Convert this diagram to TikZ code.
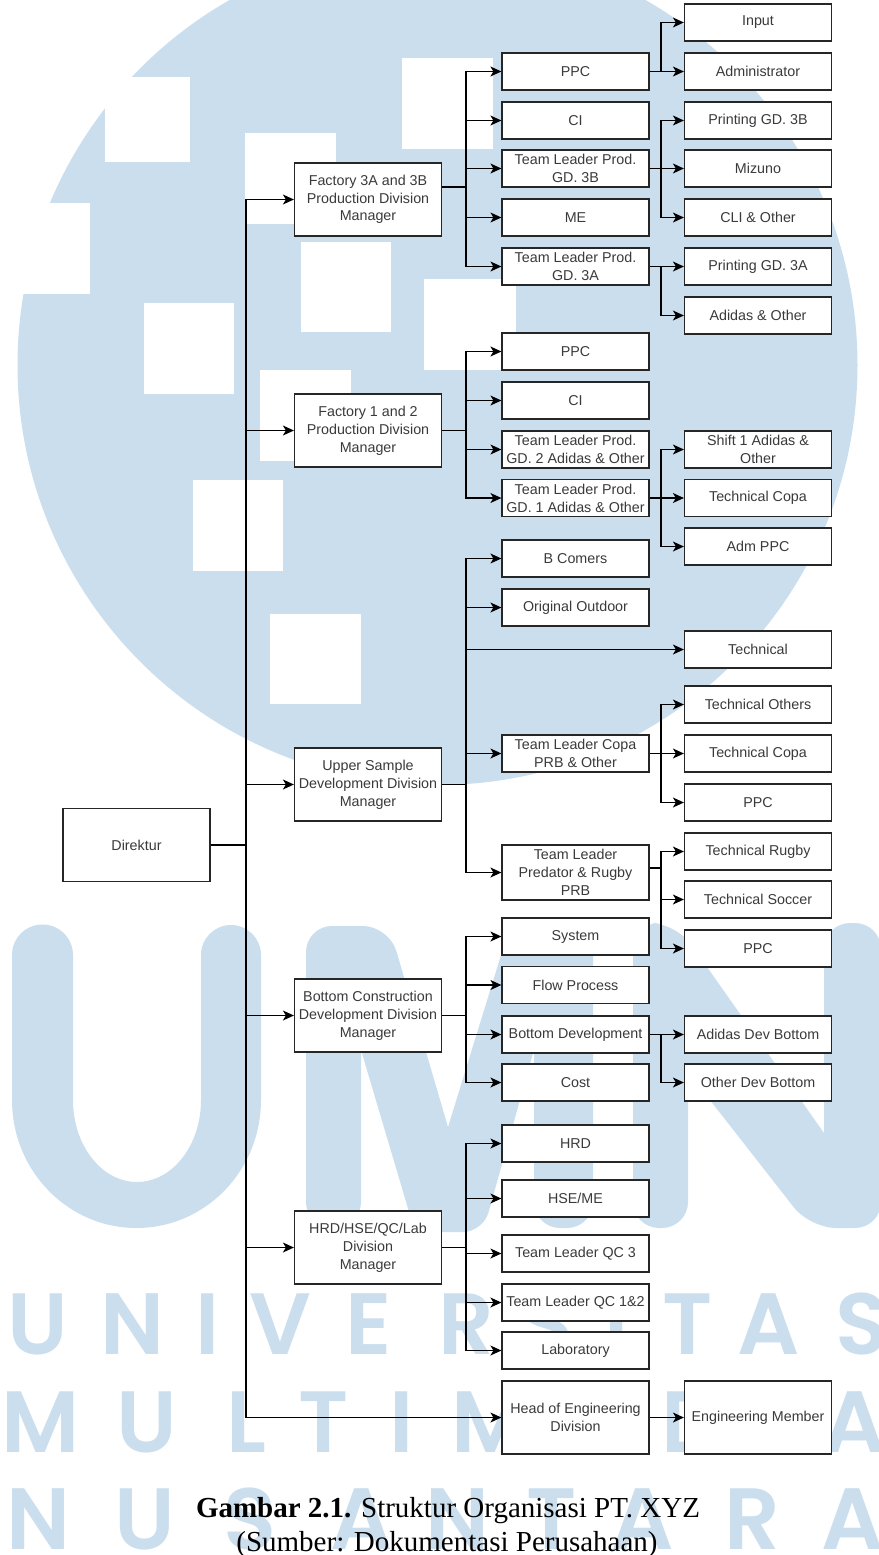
\documentclass[tikz,border=0pt]{standalone}
\usepackage{fontspec}
\usetikzlibrary{arrows.meta, positioning}
\setmainfont{Liberation Serif}
\newfontfamily\boxfont{Liberation Sans}
\newfontfamily\markfont{Poppins SemiBold}
\definecolor{markblue}{HTML}{CBDEEE}
\definecolor{boxtext}{HTML}{3A3A3A}
\tikzset{
  unit/.style={draw=black!85, fill=white, line width=1.2pt, minimum width=147pt, minimum height=37pt,
    inner sep=0pt, align=center, text=boxtext, font=\boxfont\fontsize{14.3}{17.8}\selectfont},
  tall/.style={unit, minimum height=73pt},
  mid/.style={unit, minimum height=55pt},
  link/.style={draw=black, line width=1.2pt, -{Stealth[length=11pt,width=10pt,inset=3pt]}},
  letter/.style={anchor=base, inner sep=0pt, text=markblue, font=\markfont\fontsize{87}{87}\selectfont},
  caption/.style={inner sep=0pt, font=\fontsize{29}{35}\selectfont}
}
\begin{document}
\begin{tikzpicture}[x=1pt, y=-1pt]
\useasboundingbox (0,0) rectangle (878,1555);

% circle with the white squares
\fill[markblue] (437.5,365) circle [radius=420pt];
\foreach \xa/\ya/\xb/\yb in {105/77/190/162, 245/133/336/224, 402/58/493/149, 301/242/391/332,
  424/279/516/370, 144/303/234/394, 260/370/351/461, 193/480/283/571, 270/614/361/704, 0/203/90/294}{
  \fill[white] (\xa,\ya) rectangle (\xb,\yb);
}

% big letters
\fill[markblue] (12,955) arc[start angle=180, end angle=360, radius=30.5] -- (73,1100)
  arc[start angle=180, end angle=0, x radius=64, y radius=82] -- (201,955)
  arc[start angle=180, end angle=360, radius=30] -- (261,1100)
  arc[start angle=0, end angle=180, x radius=124.5, y radius=128] -- cycle;
\fill[markblue, rounded corners=26pt] (306,926) -- (389,926) [sharp corners] -- (448,1127) [rounded corners=26pt]
  -- (510,926) -- (593,926) -- (593,1228) -- (534,1228) [sharp corners] -- (534,1050) [rounded corners=20pt]
  -- (483,1232) -- (415,1232) [sharp corners] -- (361,1050) [rounded corners=26pt] -- (361,1228) -- (306,1228) -- cycle;
\fill[markblue, rounded corners=26pt] (633,923) -- (676,923) [sharp corners] -- (824,1133) [rounded corners=26pt]
  -- (824,923) -- (881,923) -- (881,1228) -- (810,1228) [sharp corners] -- (688,1072) [rounded corners=26pt]
  -- (688,1228) -- (633,1228) -- cycle;

\foreach \x/\l in {38/U,132/N,208/I,280/V,369/E,466/R,547/S,617/I,688/T,769/A,862/S}{
  \node[letter] (uni\x) at (\x,1354) {\l};
}
\foreach \x/\l in {41/M,147/U,246/L,324/T,402/I,491/M,587/E,693/D,775/I,855/A}{
  \node[letter] (mul\x) at (\x,1452) {\l};
}
\foreach \x/\l in {38/N,145/U,250/S,362/A,457/N,552/T,643/A,752/R,853/A}{
  \node[letter] (nus\x) at (\x,1549) {\l};
}

\node[tall] (dir) at (136.5,845) {Direktur};

\node[tall] (fab3) at (368,199.5) {Factory 3A and 3B\\Production Division\\Manager};
\node[tall] (fab1) at (368,430.5) {Factory 1 and 2\\Production Division\\Manager};
\node[tall] (upper) at (368,784.5) {Upper Sample\\Development Division\\Manager};
\node[tall] (bottom) at (368,1015.5) {Bottom Construction\\Development Division\\Manager};
\node[tall] (hrd) at (368,1247.5) {HRD/HSE/QC/Lab\\Division\\Manager};

\node[unit] (ppcA) at (575.5,71.5) {PPC};
\node[unit] (ciA) at (575.5,120.5) {CI};
\node[unit] (tlB) at (575.5,168.5) {Team Leader Prod.\\GD. 3B};
\node[unit] (meA) at (575.5,217.5) {ME};
\node[unit] (tlA) at (575.5,266.5) {Team Leader Prod.\\GD. 3A};

\node[unit] (ppcB) at (575.5,351.5) {PPC};
\node[unit] (ciB) at (575.5,400.5) {CI};
\node[unit] (tlTwo) at (575.5,449.5) {Team Leader Prod.\\GD. 2 Adidas \& Other};
\node[unit] (tlOne) at (575.5,498) {Team Leader Prod.\\GD. 1 Adidas \& Other};

\node[unit] (comers) at (575.5,558.5) {B Comers};
\node[unit] (outdoor) at (575.5,607.5) {Original Outdoor};
\node[unit] (tlCopa) at (575.5,753.5) {Team Leader Copa\\PRB \& Other};
\node[mid] (tlPred) at (575.5,872.5) {Team Leader\\Predator \& Rugby\\PRB};

\node[unit] (system) at (575.5,936.5) {System};
\node[unit] (flow) at (575.5,985) {Flow Process};
\node[unit] (botdev) at (575.5,1034.5) {Bottom Development};
\node[unit] (cost) at (575.5,1082.5) {Cost};

\node[unit] (hrdA) at (575.5,1143.5) {HRD};
\node[unit] (hse) at (575.5,1198.5) {HSE/ME};
\node[unit] (qcA) at (575.5,1253.5) {Team Leader QC 3};
\node[unit] (qcB) at (575.5,1302.5) {Team Leader QC 1\&2};
\node[unit] (lab) at (575.5,1350.5) {Laboratory};
\node[tall] (eng) at (575.5,1417.5) {Head of Engineering\\Division};

\node[unit] (input) at (758,22.5) {Input};
\node[unit] (admin) at (758,71.5) {Administrator};
\node[unit] (printB) at (758,120.5) {Printing GD. 3B};
\node[unit] (mizuno) at (758,168.5) {Mizuno};
\node[unit] (cli) at (758,217.5) {CLI \& Other};
\node[unit] (printA) at (758,266.5) {Printing GD. 3A};
\node[unit] (adidas) at (758,315.5) {Adidas \& Other};

\node[unit] (shift) at (758,449.5) {Shift 1 Adidas \&\\Other};
\node[unit] (copaA) at (758,498) {Technical Copa};
\node[unit] (adm) at (758,546.5) {Adm PPC};
\node[unit] (techn) at (758,649.5) {Technical};

\node[unit] (others) at (758,704.5) {Technical Others};
\node[unit] (copaB) at (758,753.5) {Technical Copa};
\node[unit] (ppcC) at (758,802.5) {PPC};
\node[unit] (rugby) at (758,851.5) {Technical Rugby};
\node[unit] (soccer) at (758,899.5) {Technical Soccer};
\node[unit] (ppcD) at (758,948.5) {PPC};

\node[unit] (devA) at (758,1034.5) {Adidas Dev Bottom};
\node[unit] (devB) at (758,1082.5) {Other Dev Bottom};
\node[tall] (member) at (758,1417.5) {Engineering Member};

% the points where the lines branch
\coordinate (busdir) at (246,845);
\coordinate (busfabA) at (466,187);
\coordinate (busfabB) at (466,430.5);
\coordinate (busupper) at (466,784.5);
\coordinate (busbottom) at (466,1015.5);
\coordinate (bushrd) at (466,1247.5);
\coordinate (busppc) at (661,71.5);
\coordinate (bustlB) at (661,168.5);
\coordinate (bustlA) at (661,266.5);
\coordinate (bustlOne) at (661,498);
\coordinate (buscopa) at (661,753.5);
\coordinate (buspred) at (661,868);
\coordinate (busdev) at (661,1034.5);

\foreach \a/\b/\list in {
  dir/busdir/{fab3,fab1,upper,bottom,hrd,eng},
  fab3/busfabA/{ppcA,ciA,tlB,meA,tlA},
  fab1/busfabB/{ppcB,ciB,tlTwo,tlOne},
  upper/busupper/{comers,outdoor,techn,tlCopa,tlPred},
  bottom/busbottom/{system,flow,botdev,cost},
  hrd/bushrd/{hrdA,hse,qcA,qcB,lab},
  ppcA/busppc/{input,admin},
  tlB/bustlB/{printB,mizuno,cli},
  tlA/bustlA/{printA,adidas},
  tlOne/bustlOne/{shift,copaA,adm},
  tlCopa/buscopa/{others,copaB,ppcC},
  tlPred/buspred/{rugby,soccer,ppcD},
  botdev/busdev/{devA,devB}}{
  \foreach \t in \list { \draw[link] (\a.east |- \b) -- (\b) |- (\t.west); }
}
\draw[link] (eng) -- (member);

\node[caption] (capA) at (448,1511) {\textbf{Gambar 2.1.} Struktur Organisasi PT. XYZ};
\node[caption] (capB) at (447,1545) {(Sumber: Dokumentasi Perusahaan)};

\end{tikzpicture}
\end{document}
